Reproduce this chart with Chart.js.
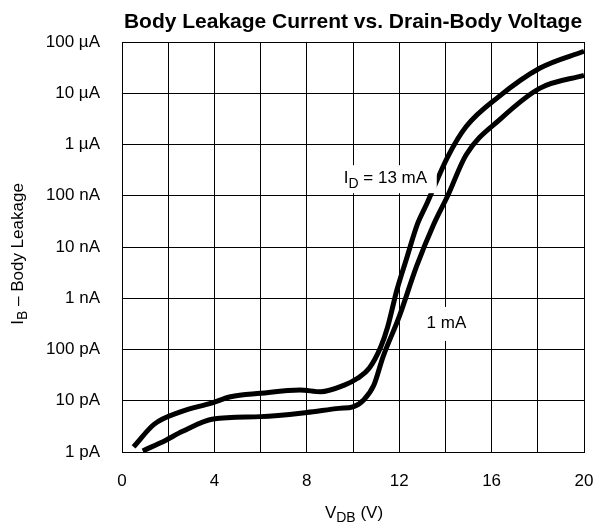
<!DOCTYPE html>
<html>
<head>
<meta charset="utf-8">
<script src="https://cdn.jsdelivr.net/npm/chart.js@4/dist/chart.umd.min.js"></script>
<style>
html,body{margin:0;padding:0;background:#fff;}
#wrap{width:593px;height:527px;}
</style>
</head>
<body>
<div id="wrap"><canvas id="c" width="593" height="527"></canvas></div>
<script>
// Drain-body voltage (V) and body leakage current (pA) for each drain current
const vdb13mA = [0.5, 1.4, 2.5, 3.9, 4.7, 6.0, 7.7, 8.6, 9.6, 10.2, 10.7, 11.2, 11.5, 11.9, 12.3, 12.8, 13.2, 14.1, 14.9, 16.3, 18.1, 20];
const ib13mA  = [1.26, 3.5, 6.0, 9.1, 12, 14, 16.2, 15, 20, 27.5, 43, 112, 275, 1450, 5600, 28800, 70800, 575000, 2.24e6, 8.5e6, 3.1e7, 6.6e7];
const vdb1mA  = [0.9, 1.9, 2.6, 3.95, 6.0, 8.0, 9.4, 10.0, 10.45, 10.9, 11.3, 12.0, 12.75, 13.5, 14.1, 14.9, 16.4, 18.1, 20];
const ib1mA   = [1.05, 1.7, 2.5, 4.4, 4.9, 5.9, 7.1, 7.6, 10.2, 20, 72, 437, 4170, 28000, 1.0e5, 6.3e5, 3.2e6, 1.26e7, 2.24e7];

const xTickValues = [0, 4, 8, 12, 16, 20];
const yTickValues = [1, 10, 100, 1e3, 1e4, 1e5, 1e6, 1e7, 1e8];
const yTickLabels = ['1 pA', '10 pA', '100 pA', '1 nA', '10 nA', '100 nA', '1 \u00b5A', '10 \u00b5A', '100 \u00b5A'];
const seriesNames = ['13 mA', '1 mA'];

const FONT = '"Liberation Sans", Arial, Helvetica, sans-serif';
const FS = 17;

function toPts(xs, ys) { return xs.map((x, i) => ({x: x, y: ys[i]})); }

function drawParts(ctx, parts, x, y, size, align) {
  let w = 0;
  const subSize = Math.round(size * 0.8);
  parts.forEach(p => {
    ctx.font = (p[1] ? subSize : size) + 'px ' + FONT;
    w += ctx.measureText(p[0]).width;
  });
  let cx = align === 'center' ? x - w / 2 : (align === 'right' ? x - w : x);
  ctx.textAlign = 'left';
  ctx.textBaseline = 'middle';
  parts.forEach(p => {
    ctx.font = (p[1] ? subSize : size) + 'px ' + FONT;
    ctx.fillText(p[0], cx, p[1] ? y + size * 0.32 : y);
    cx += ctx.measureText(p[0]).width;
  });
  return w;
}

const textPlugin = {
  id: 'texts',
  afterDraw(chart) {
    const ctx = chart.ctx;
    const ca = chart.chartArea;
    ctx.save();
    ctx.fillStyle = '#000';
    ctx.font = 'bold 21px ' + FONT;
    ctx.textAlign = 'center';
    ctx.textBaseline = 'middle';
    ctx.fillText('Body Leakage Current vs. Drain-Body Voltage', (ca.left + ca.right) / 2, 22);
    drawParts(ctx, [['V', false], ['DB', true], [' (V)', false]], (ca.left + ca.right) / 2 + 1, 513, FS, 'center');
    ctx.save();
    ctx.translate(18, 254);
    ctx.rotate(-Math.PI / 2);
    drawParts(ctx, [['I', false], ['B', true], [' \u2013 Body Leakage', false]], 0, 0, FS, 'center');
    ctx.restore();
    ctx.restore();
  }
};

const annoPlugin = {
  id: 'anno',
  afterDatasetsDraw(chart) {
    const ctx = chart.ctx;
    const xs = chart.scales.x, ys = chart.scales.y;
    ctx.save();
    let px = xs.getPixelForValue(9.6), py = ys.getPixelForValue(2.2e5);
    ctx.fillStyle = '#fff';
    ctx.fillRect(px - 3, py - 13, 96, 28);
    ctx.fillStyle = '#000';
    drawParts(ctx, [['I', false], ['D', true], [' = 13 mA', false]], px, py, FS, 'left');
    px = xs.getPixelForValue(13.1); py = ys.getPixelForValue(330);
    ctx.fillStyle = '#fff';
    ctx.fillRect(px - 2, py - 16, 50, 34);
    ctx.fillStyle = '#000';
    drawParts(ctx, [['1 mA', false]], px + 2, py, FS, 'left');
    ctx.restore();
  }
};

new Chart(document.getElementById('c'), {
  type: 'line',
  data: {
    datasets: [
      { label: seriesNames[0], data: toPts(vdb13mA, ib13mA) },
      { label: seriesNames[1], data: toPts(vdb1mA, ib1mA) }
    ].map(d => Object.assign(d, {
      borderColor: '#000', backgroundColor: '#000', borderWidth: 5,
      pointRadius: 0, fill: false, cubicInterpolationMode: 'monotone',
      borderCapStyle: 'butt', borderJoinStyle: 'round', clip: false
    }))
  },
  options: {
    responsive: false,
    animation: false,
    devicePixelRatio: 1,
    layout: { padding: { left: 0, right: 9, top: 42, bottom: 0 } },
    plugins: { legend: { display: false }, title: { display: false }, tooltip: { enabled: false } },
    scales: {
      x: {
        type: 'linear', min: 0, max: 20,
        border: { display: true, color: '#000', width: 1 },
        grid: { color: '#000', lineWidth: 1, drawTicks: false },
        ticks: {
          stepSize: 2, padding: 19, color: '#000', maxRotation: 0, autoSkip: false,
          font: { family: FONT, size: FS },
          callback: v => xTickValues.includes(v) ? String(v) : ''
        },
        afterFit: s => { s.height = 75; s.paddingLeft = 0; s.paddingRight = 0; }
      },
      y: {
        type: 'logarithmic', min: 1, max: 1e8,
        border: { display: true, color: '#000', width: 1 },
        grid: { color: '#000', lineWidth: 1, drawTicks: false },
        afterBuildTicks: s => { s.ticks = yTickValues.map(v => ({ value: v, major: true })); },
        ticks: {
          padding: 22, color: '#000', autoSkip: false,
          font: { family: FONT, size: FS },
          callback: v => { const i = yTickValues.indexOf(v); return i >= 0 ? yTickLabels[i] : ''; }
        },
        afterFit: s => { s.width = 122; s.paddingTop = 0; s.paddingBottom = 0; }
      }
    }
  },
  plugins: [textPlugin, annoPlugin]
});
</script>
</body>
</html>
